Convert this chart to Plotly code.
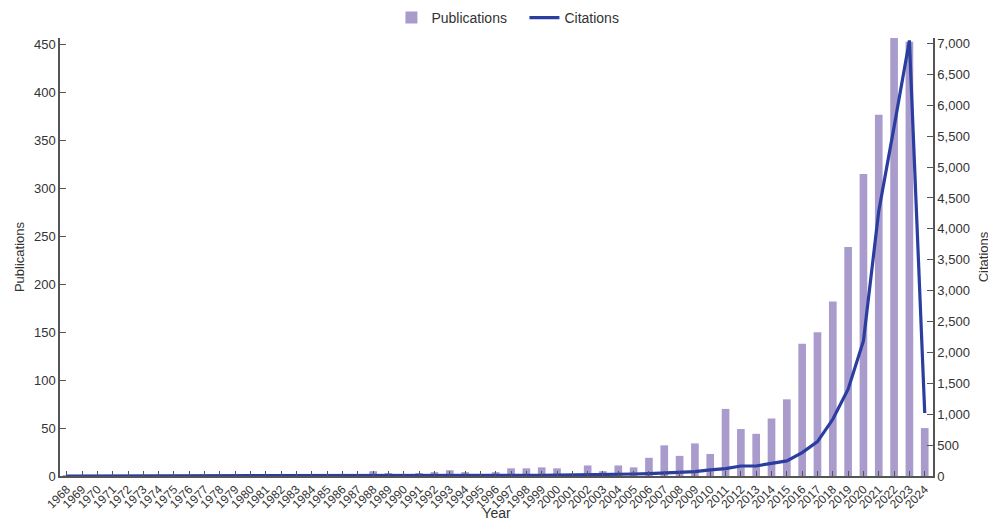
import plotly.graph_objects as go

years = list(range(1968, 2025))

publications = [1, 0, 0, 0, 0, 0, 0, 0, 0, 0,
                0, 0, 0, 0, 0, 0, 0, 0, 0, 0,
                5, 3, 2, 3, 4, 6, 4, 1, 4, 8,
                8, 9, 8, 2, 11, 5, 11, 9, 19, 32,
                21, 34, 23, 70, 49, 44, 60, 80, 138, 150,
                182, 239, 315, 377, 458, 453, 50]

citations = [0, 0, 0, 0, 0, 0, 0, 0, 0, 0,
             0, 0, 0, 0, 0, 0, 0, 0, 0, 0,
             2, 2, 2, 3, 3, 4, 5, 5, 6, 8,
             10, 12, 14, 16, 20, 30, 28, 32, 40, 50,
             70, 72, 100, 120, 162, 162, 205, 245, 378, 556,
             918, 1404, 2187, 4290, 5650, 7050, 1020]

left_ticks = list(range(0, 451, 50))
right_ticks = list(range(0, 7001, 500))

bar_color = "#a99bcc"
line_color = "#2b3ea0"
text_color = "#333333"
axis_color = "#555555"
font_family = "Liberation Sans, Arial, sans-serif"

fig = go.Figure()
fig.add_trace(go.Bar(x=years, y=publications, name="Publications",
                     marker=dict(color=bar_color, line=dict(width=0)),
                     width=0.5, yaxis="y"))
fig.add_trace(go.Scatter(x=years, y=citations, name="Citations", mode="lines",
                         line=dict(color=line_color, width=3.2), yaxis="y2"))

fig.update_layout(
    width=988, height=513,
    margin=dict(l=52, r=63, t=30, b=45, autoexpand=False),
    paper_bgcolor="white", plot_bgcolor="white",
    font=dict(family=font_family, color=text_color, size=13),
    showlegend=True,
    legend=dict(orientation="h", x=0.532, xanchor="center", y=1.0457, yanchor="middle",
                font=dict(size=14), itemwidth=30, traceorder="normal",
                entrywidth=88, entrywidthmode="pixels"),
    xaxis=dict(range=[1967.56, 2024.54], tickmode="array", tickvals=years,
               ticktext=[str(y) for y in years], tickangle=-45, automargin=False,
               tickfont=dict(size=12), ticks="inside", ticklen=5, tickcolor=axis_color,
               showline=True, linecolor=axis_color, linewidth=1.5, showgrid=False,
               zeroline=False,
               title=dict(text="Year", font=dict(size=14), standoff=10)),
    yaxis=dict(range=[0, 457], tickvals=left_ticks, ticks="inside", ticklen=6,
               automargin=False,
               tickcolor=axis_color, showline=True, linecolor=axis_color, linewidth=1.5,
               showgrid=False, zeroline=False, tickfont=dict(size=13),
               title=dict(text="Publications", font=dict(size=13), standoff=6)),
    yaxis2=dict(range=[0, 7089], tickvals=right_ticks, tickformat=",", overlaying="y",
                side="right", ticks="inside", ticklen=6, tickcolor=axis_color,
                automargin=False,
                showline=True, linecolor=axis_color, linewidth=1.5, showgrid=False,
                zeroline=False, tickfont=dict(size=13),
                title=dict(text="Citations", font=dict(size=13), standoff=10)),
    bargap=0.5,
)

fig.write_html("out.html")
